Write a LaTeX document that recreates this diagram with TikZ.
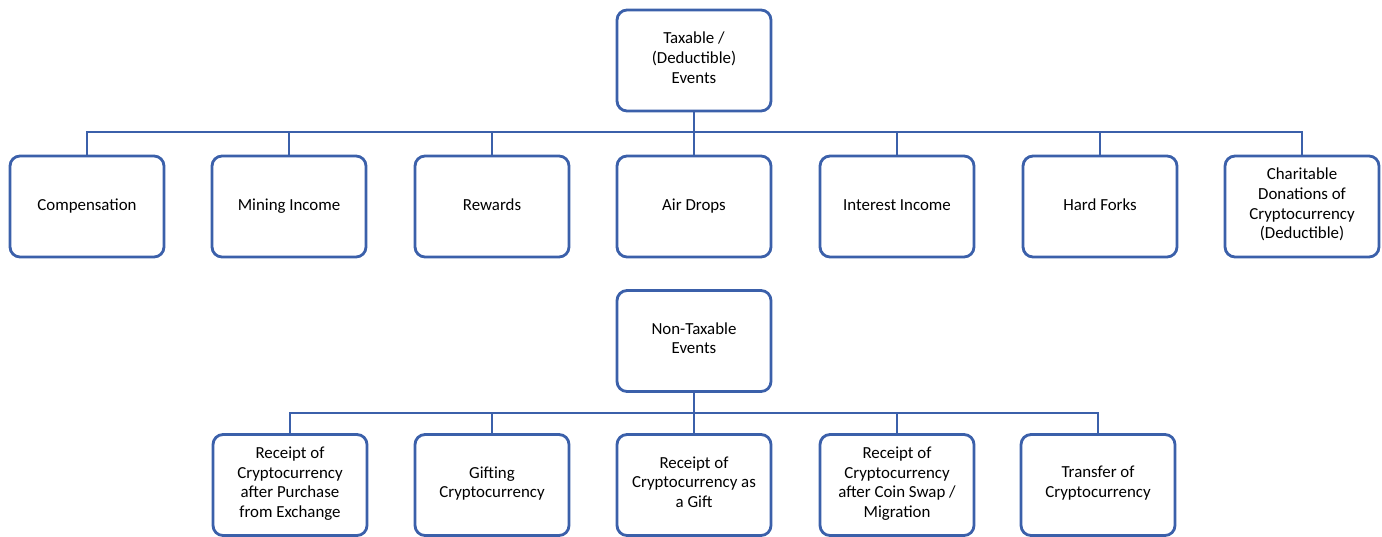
\documentclass[tikz,border=0pt]{standalone}
\usepackage{fontspec}
\setmainfont{Carlito}
\usetikzlibrary{positioning}
\definecolor{L}{RGB}{59, 96, 170}

\begin{document}
\begin{tikzpicture}[x=0.02cm, y=-0.02cm,
   box/.style={draw=L, line width=1.6pt, rounded corners=0.2cm, fill=white,
               minimum width=3.08cm, minimum height=2.02cm, align=center,
               font=\fontsize{9.6}{11.2}\selectfont,
               execute at begin node=\strut, execute at end node=\strut},
   link/.style={draw=L, line width=1.6pt}]
   \useasboundingbox (0,0) rectangle (1382,537);
   % taxable events
   \node[box] (tax) at (694, 60.5) {Taxable /\\(Deductible)\\Events};
   \coordinate (bus1) at (694, 132);
   \node[box] (comp) at (87, 206.5) {Compensation};
   \node[box] (mine) at (289, 206.5) {Mining Income};
   \node[box] (rew)  at (492, 206.5) {Rewards};
   \node[box] (air)  at (694, 206.5) {Air Drops};
   \node[box] (int)  at (897, 206.5) {Interest Income};
   \node[box] (fork) at (1100, 206.5) {Hard Forks};
   \node[box] (don)  at (1302, 206.5) {Charitable\\Donations of\\Cryptocurrency\\(Deductible)};
   \draw[link] (tax) -- (bus1);
   \draw[link] (comp) |- (bus1);
   \draw[link] (mine) |- (bus1);
   \draw[link] (rew) |- (bus1);
   \draw[link] (air) -- (bus1);
   \draw[link] (int) |- (bus1);
   \draw[link] (fork) |- (bus1);
   \draw[link] (don) |- (bus1);
   % non-taxable events
   \node[box] (non) at (694, 341) {Non-Taxable\\Events};
   \coordinate (bus2) at (694, 413);
   \node[box] (buy)  at (290, 485) {Receipt of\\Cryptocurrency\\after Purchase\\from Exchange};
   \node[box] (gift) at (492, 485) {Gifting\\Cryptocurrency};
   \node[box] (rec)  at (694, 485) {Receipt of\\Cryptocurrency as\\a Gift};
   \node[box] (swap) at (897, 485) {Receipt of\\Cryptocurrency\\after Coin Swap /\\Migration};
   \node[box] (tran) at (1098, 485) {Transfer of\\Cryptocurrency};
   \draw[link] (non) -- (bus2);
   \draw[link] (buy) |- (bus2);
   \draw[link] (gift) |- (bus2);
   \draw[link] (rec) -- (bus2);
   \draw[link] (swap) |- (bus2);
   \draw[link] (tran) |- (bus2);
\end{tikzpicture}
\end{document}
